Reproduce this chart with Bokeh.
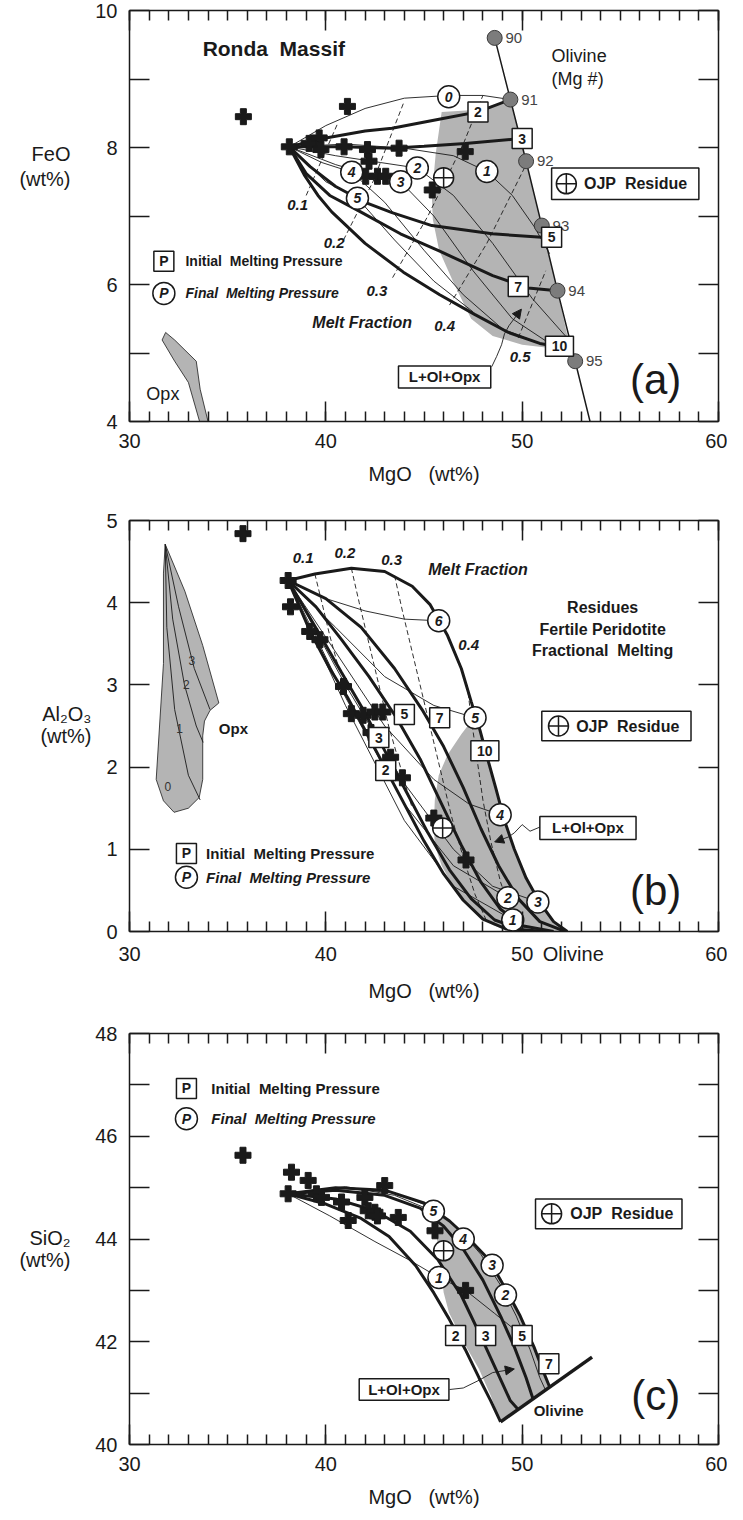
import json
from bokeh.plotting import figure
from bokeh.models import (LinearAxis, FixedTicker, CustomJSTickFormatter,
                          Arrow, NormalHead, Range1d)
from bokeh.layouts import column
from bokeh.embed import file_html
from bokeh.resources import INLINE
from bokeh.core.properties import value

FONT = "Liberation Sans"
INK = "#1a1a1a"
FIELD = "#b4b4b4"

# ---------------- shared axis values ----------------
MGO_TICKS = [30, 40, 50, 60]
MGO_MINOR = list(range(30, 61))
FEO_TICKS = [4, 6, 8, 10]
FEO_MINOR = [5, 7, 9]
AL_TICKS = [0, 1, 2, 3, 4, 5]
SI_TICKS = [40, 42, 44, 46, 48]
SI_MINOR = [41, 43, 45, 47]

# ---------------- panel (a): FeO vs MgO ----------------
A_CROSS_MGO = [35.8, 41.1, 38.14, 39.15, 39.66, 39.75, 40.93, 42.12, 42.2, 42.03, 42.63, 43.05, 43.73, 45.42, 47.1]
A_CROSS_FEO = [8.45, 8.6, 8.01, 8.06, 8.14, 7.97, 8.01, 7.97, 7.8, 7.58, 7.58, 7.58, 7.99, 7.38, 7.94]
A_OJP_MGO = [46.0]
A_OJP_FEO = [7.56]
A_OL_MGNUM = ["90", "91", "92", "93", "94", "95"]
A_OL_MGO = [48.6, 49.4, 50.2, 51.0, 51.8, 52.7]
A_OL_FEO = [9.6, 8.7, 7.8, 6.86, 5.91, 4.88]
A_OL_LINE_MGO = [48.6, 49.4, 50.2, 51.0, 51.8, 52.7, 53.5]
A_OL_LINE_FEO = [9.6, 8.7, 7.8, 6.86, 5.91, 4.88, 3.95]

A_P2_MGO = [38.14, 40.0, 42.0, 43.37, 45.9, 47.75, 49.4]
A_P2_FEO = [8.01, 8.14, 8.24, 8.28, 8.42, 8.52, 8.7]
A_P3_MGO = [38.14, 40.93, 43.37, 45.0, 47.1, 49.9]
A_P3_FEO = [8.01, 8.01, 7.99, 8.02, 8.06, 8.13]
A_P5_MGO = [38.14, 39.2, 40.5, 42.0, 43.37, 45.4, 48.47, 51.0]
A_P5_FEO = [8.01, 7.72, 7.43, 7.2, 7.05, 6.86, 6.74, 6.69]
A_P7_MGO = [38.14, 39.0, 40.2, 41.77, 43.8, 45.77, 48.5, 50.3, 51.8]
A_P7_FEO = [8.01, 7.62, 7.3, 7.06, 6.74, 6.49, 6.13, 5.95, 5.91]
A_P10_MGO = [38.14, 38.9, 39.6, 40.3, 42.0, 43.95, 45.8, 47.6, 49.3, 50.9, 52.45]
A_P10_FEO = [8.01, 7.6, 7.3, 7.06, 6.6, 6.18, 5.85, 5.56, 5.3, 5.14, 5.06]

A_F0_MGO = [38.14, 40.0, 42.0, 44.0, 46.26, 48.0, 49.4]
A_F0_FEO = [8.01, 8.32, 8.57, 8.72, 8.76, 8.76, 8.70]
A_F1_MGO = [38.14, 41.0, 44.0, 46.5, 48.2, 49.5, 50.6, 51.4]
A_F1_FEO = [8.01, 8.05, 7.99, 7.88, 7.65, 7.3, 6.85, 6.45]
A_F2_MGO = [38.14, 40.5, 42.8, 44.66, 46.5, 48.5, 50.5, 52.2]
A_F2_FEO = [8.01, 7.88, 7.78, 7.70, 7.3, 6.6, 5.8, 5.25]
A_F3_MGO = [38.14, 40.5, 42.3, 43.81, 45.5, 47.5, 49.5, 51.5]
A_F3_FEO = [8.01, 7.75, 7.6, 7.50, 7.0, 6.2, 5.5, 5.12]
A_F4_MGO = [38.14, 39.8, 41.32, 43.0, 45.0, 47.0, 49.0, 50.9]
A_F4_FEO = [8.01, 7.78, 7.64, 7.2, 6.5, 5.85, 5.35, 5.14]
A_F5_MGO = [38.14, 40.0, 41.61, 43.5, 45.5, 47.5]
A_F5_FEO = [8.01, 7.5, 7.26, 6.65, 6.05, 5.6]

A_ISO1_MGO = [39.0, 40.6]
A_ISO1_FEO = [7.3, 8.35]
A_ISO2_MGO = [40.9, 42.4, 44.0]
A_ISO2_FEO = [6.65, 7.5, 8.68]
A_ISO3_MGO = [43.4, 45.2, 47.0, 48.0]
A_ISO3_FEO = [6.1, 7.0, 8.05, 8.76]
A_ISO4_MGO = [46.3, 48.2, 50.2]
A_ISO4_FEO = [5.7, 6.6, 7.75]
A_ISO5_MGO = [49.8, 51.2]
A_ISO5_FEO = [5.22, 6.2]

A_FIELD_MGO = [45.9, 45.6, 45.4, 45.45, 45.77, 46.5, 47.4, 48.5, 50.0, 51.2, 52.45, 51.8, 51.0, 50.2, 49.4, 47.75]
A_FIELD_FEO = [8.52, 7.92, 7.29, 6.95, 6.5, 6.03, 5.5, 5.25, 5.12, 5.08, 5.06, 5.91, 6.86, 7.8, 8.7, 8.55]
A_OPX_MGO = [31.84, 32.3, 33.4, 33.6, 34.0, 33.57, 33.0, 32.3, 31.66]
A_OPX_FEO = [5.3, 5.19, 4.88, 4.47, 4.0, 4.0, 4.57, 4.88, 5.19]

A_IP_LABELS = ["2", "3", "5", "7", "10"]
A_IP_MGO = [47.75, 50.0, 51.5, 49.8, 51.9]
A_IP_FEO = [8.52, 8.13, 6.69, 5.97, 5.10]
A_FP_LABELS = ["0", "1", "2", "3", "4", "5"]
A_FP_MGO = [46.26, 48.2, 44.66, 43.81, 41.32, 41.61]
A_FP_FEO = [8.74, 7.65, 7.70, 7.50, 7.64, 7.26]
A_MF_LABELS = ["0.1", "0.2", "0.3", "0.4", "0.5"]
A_MF_MGO = [38.56, 40.42, 42.6, 46.05, 49.9]
A_MF_FEO = [7.16, 6.6, 5.9, 5.4, 4.94]
A_LEAD_MGO = [48.45, 48.7, 48.95, 49.1, 49.33]
A_LEAD_FEO = [4.8, 4.95, 5.12, 5.28, 5.4]
A_ARROW_TIP = [49.96, 5.64]
A_YTITLE = ["FeO", "(wt%)"]
A_YTITLE_AT = [7.9, 7.54]

# ---------------- panel (b): Al2O3 vs MgO ----------------
B_CROSS_MGO = [35.78, 38.08, 38.2, 39.18, 39.7, 40.9, 41.3, 41.9, 42.5, 42.9, 42.3, 43.3, 43.9, 45.5, 47.14]
B_CROSS_AL = [4.84, 4.27, 3.95, 3.65, 3.55, 2.98, 2.65, 2.63, 2.67, 2.67, 2.42, 2.12, 1.87, 1.38, 0.87]
B_OJP_MGO = [45.95]
B_OJP_AL = [1.26]

B_P2_MGO = [38.08, 39.2, 40.2, 41.1, 42.0, 43.0, 44.0, 45.0, 46.0, 47.0, 48.0, 49.2, 50.5]
B_P2_AL = [4.27, 3.65, 3.2, 2.85, 2.45, 2.0, 1.55, 1.1, 0.7, 0.38, 0.15, 0.03, 0.0]
B_P3_MGO = [38.08, 39.6, 40.8, 41.9, 43.0, 44.1, 45.2, 46.3, 47.4, 48.6, 50.0, 51.2]
B_P3_AL = [4.27, 3.65, 3.15, 2.7, 2.2, 1.7, 1.2, 0.75, 0.4, 0.14, 0.02, 0.0]
B_P5_MGO = [38.08, 39.5, 40.8, 42.2, 43.6, 44.8, 45.9, 46.9, 47.9, 48.9, 50.0, 51.6]
B_P5_AL = [4.27, 3.95, 3.55, 3.1, 2.6, 2.1, 1.55, 1.05, 0.6, 0.27, 0.07, 0.0]
B_P7_MGO = [38.08, 40.0, 41.8, 43.5, 44.9, 46.0, 47.0, 47.9, 48.8, 49.8, 50.9, 52.2]
B_P7_AL = [4.27, 4.05, 3.7, 3.2, 2.7, 2.25, 1.75, 1.25, 0.8, 0.4, 0.12, 0.0]
B_P10_MGO = [38.08, 39.44, 41.3, 43.0, 44.4, 45.3, 46.2, 46.9, 47.4, 47.85, 48.3, 48.65, 49.1, 49.6, 50.2, 50.9, 51.6, 52.3]
B_P10_AL = [4.27, 4.35, 4.42, 4.38, 4.2, 3.98, 3.6, 3.2, 2.8, 2.45, 2.05, 1.75, 1.35, 1.0, 0.65, 0.35, 0.12, 0.0]

B_F6_MGO = [38.08, 40.0, 42.0, 44.0, 45.75]
B_F6_AL = [4.27, 4.05, 3.9, 3.8, 3.78]
B_F5_MGO = [38.08, 40.5, 43.0, 45.5, 47.6]
B_F5_AL = [4.27, 3.7, 3.1, 2.75, 2.6]
B_F4_MGO = [38.08, 40.5, 43.0, 45.5, 47.3, 48.88]
B_F4_AL = [4.27, 3.4, 2.5, 1.85, 1.55, 1.42]
B_F3_MGO = [38.08, 41.0, 44.0, 46.5, 48.5, 50.8]
B_F3_AL = [4.27, 3.0, 1.8, 1.0, 0.55, 0.36]
B_F2_MGO = [38.08, 41.0, 44.0, 46.5, 49.27]
B_F2_AL = [4.27, 2.85, 1.55, 0.8, 0.41]
B_F1_MGO = [38.08, 41.0, 44.0, 46.5, 49.52]
B_F1_AL = [4.27, 2.75, 1.35, 0.55, 0.14]

B_ISO1_MGO = [39.44, 39.8, 40.2, 40.6]
B_ISO1_AL = [4.35, 4.0, 3.6, 3.25]
B_ISO2_MGO = [41.3, 41.7, 42.2, 42.7, 43.2, 43.8, 44.4]
B_ISO2_AL = [4.42, 4.0, 3.5, 3.0, 2.5, 2.0, 1.5]
B_ISO3_MGO = [43.5, 43.9, 44.4, 44.9, 45.4, 45.9, 46.4, 47.0, 47.6, 48.2]
B_ISO3_AL = [4.33, 3.9, 3.4, 2.9, 2.4, 1.9, 1.4, 0.9, 0.45, 0.12]
B_ISO4_MGO = [47.2, 47.4, 47.7, 48.0, 48.4, 48.9, 49.5, 50.2]
B_ISO4_AL = [3.0, 2.6, 2.1, 1.6, 1.1, 0.6, 0.2, 0.03]

B_FIELD_MGO = [47.6, 46.9, 46.2, 45.75, 45.55, 45.5, 45.55, 45.9, 46.6, 47.5, 48.5, 49.5, 52.3, 51.6, 50.9, 50.2, 49.6, 49.1, 48.65, 48.3, 47.85]
B_FIELD_AL = [2.62, 2.4, 2.15, 1.9, 1.6, 1.3, 1.05, 0.8, 0.5, 0.25, 0.08, 0.0, 0.0, 0.12, 0.35, 0.65, 1.0, 1.35, 1.75, 2.05, 2.45]
B_OPX_MGO = [31.82, 32.82, 33.73, 34.55, 34.1, 33.82, 33.73, 33.73, 33.55, 33.0, 32.27, 31.73, 31.36, 31.73, 31.73]
B_OPX_AL = [4.71, 4.14, 3.48, 2.78, 2.69, 2.56, 2.38, 1.85, 1.63, 1.5, 1.45, 1.59, 1.85, 3.26, 4.36]
B_OPXL1_MGO = [31.82, 31.9, 32.3, 33.0, 33.6]
B_OPXL1_AL = [4.71, 3.7, 2.7, 1.9, 1.6]
B_OPXL2_MGO = [31.82, 32.2, 32.8, 33.4, 33.75]
B_OPXL2_AL = [4.71, 3.8, 3.0, 2.5, 2.3]
B_OPXL3_MGO = [31.82, 32.5, 33.3, 34.1]
B_OPXL3_AL = [4.71, 3.95, 3.2, 2.7]
B_OPXN_LABELS = ["0", "1", "2", "3"]
B_OPXN_MGO = [31.95, 32.55, 32.9, 33.18]
B_OPXN_AL = [1.76, 2.47, 3.0, 3.3]

B_IP_LABELS = ["2", "3", "5", "7", "10"]
B_IP_MGO = [43.05, 42.7, 44.0, 45.8, 48.1]
B_IP_AL = [1.96, 2.36, 2.64, 2.6, 2.2]
B_FP_LABELS = ["1", "2", "3", "4", "5", "6"]
B_FP_MGO = [49.52, 49.27, 50.8, 48.88, 47.6, 45.75]
B_FP_AL = [0.14, 0.41, 0.36, 1.42, 2.6, 3.78]
B_MF_LABELS = ["0.1", "0.2", "0.3", "0.4"]
B_MF_MGO = [38.84, 40.97, 43.35, 47.28]
B_MF_AL = [4.54, 4.6, 4.52, 3.48]
B_LEAD_MGO = [50.9, 50.4, 50.0, 49.6, 49.3]
B_LEAD_AL = [1.27, 1.22, 1.3, 1.2, 1.15]
B_ARROW_TIP = [48.6, 1.09]
B_YTITLE = ["Al\u2082O\u2083", "(wt%)"]
B_YTITLE_AT = [2.64, 2.38]
B_OLIVINE_MGO = 52.6

# ---------------- panel (c): SiO2 vs MgO ----------------
C_CROSS_MGO = [35.78, 38.25, 38.08, 39.1, 39.52, 39.78, 40.8, 41.14, 41.99, 42.16, 42.5, 43.0, 43.69, 45.56, 47.12, 42.63]
C_CROSS_SI = [45.63, 45.3, 44.88, 45.14, 44.88, 44.81, 44.72, 44.36, 44.81, 44.55, 44.52, 45.04, 44.42, 44.16, 43.0, 44.45]
C_OJP_MGO = [46.0]
C_OJP_SI = [43.77]

C_P2_MGO = [38.08, 40.0, 41.8, 43.22, 44.58, 45.5, 46.27, 47.1, 47.8, 48.4, 48.9]
C_P2_SI = [44.88, 44.68, 44.4, 44.05, 43.48, 42.95, 42.45, 41.85, 41.3, 40.85, 40.44]
C_P3_MGO = [38.08, 40.5, 42.5, 44.3, 45.7, 46.9, 47.9, 48.8, 49.4, 49.8]
C_P3_SI = [44.88, 44.78, 44.55, 44.15, 43.6, 42.9, 42.1, 41.35, 40.85, 40.68]
C_P5_MGO = [38.08, 40.5, 43.0, 44.8, 46.0, 47.0, 48.0, 48.9, 49.6, 50.2, 50.55]
C_P5_SI = [44.88, 44.95, 44.85, 44.6, 44.25, 43.8, 43.2, 42.5, 41.9, 41.3, 40.89]
C_P7_MGO = [38.08, 40.5, 43.0, 45.0, 46.3, 47.3, 48.3, 49.2, 49.9, 50.6, 51.1, 51.4]
C_P7_SI = [44.88, 45.0, 44.95, 44.7, 44.35, 44.0, 43.6, 43.0, 42.5, 41.9, 41.4, 41.12]

C_F1_MGO = [38.08, 40.2, 42.5, 44.3, 45.76]
C_F1_SI = [44.88, 44.45, 43.95, 43.58, 43.25]
C_F1B_MGO = [45.76, 47.12, 48.6, 50.0]
C_F1B_SI = [43.25, 43.0, 42.55, 42.12]
C_F5_MGO = [38.08, 41.0, 43.5, 45.48]
C_F5_SI = [44.88, 45.02, 44.85, 44.54]
C_FX_MGO = [38.08, 41.0, 43.5, 45.5, 46.8, 47.9, 48.9, 49.7, 50.4, 50.9, 51.2]
C_FX_SI = [44.88, 44.98, 44.9, 44.6, 44.18, 43.7, 43.1, 42.5, 41.85, 41.3, 41.05]

C_FIELD_MGO = [45.5, 45.75, 46.0, 46.27, 47.0, 47.8, 48.4, 48.9, 50.2, 51.4, 50.9, 50.0, 48.9, 47.5, 46.5, 45.8]
C_FIELD_SI = [44.35, 43.8, 42.96, 42.57, 42.0, 41.47, 40.95, 40.44, 40.79, 41.12, 41.6, 42.45, 43.25, 43.95, 44.3, 44.5]
C_OL_MGO = [48.9, 53.56]
C_OL_SI = [40.44, 41.7]

C_IP_LABELS = ["2", "3", "5", "7"]
C_IP_MGO = [46.61, 48.14, 50.0, 51.36]
C_IP_SI = [42.12, 42.12, 42.12, 41.57]
C_FP_LABELS = ["1", "2", "3", "4", "5"]
C_FP_MGO = [45.76, 49.15, 48.47, 47.0, 45.48]
C_FP_SI = [43.25, 42.91, 43.49, 44.0, 44.54]
C_LEAD_MGO = [46.3, 47.0, 47.8, 48.5]
C_LEAD_SI = [41.07, 41.1, 41.25, 41.4]
C_ARROW_TIP = [49.6, 41.47]
C_YTITLE = ["SiO\u2082", "(wt%)"]
C_YTITLE_AT = [44.01, 43.6]


# ---------------- helpers ----------------
def label_map_formatter(ticks, labels, fallback_number):
    code = ("const T = %s; const L = %s;"
            "for (let i = 0; i < T.length; i++) { if (Math.abs(tick - T[i]) < 1e-6) return L[i]; }"
            "return %s;") % (json.dumps(ticks), json.dumps(labels),
                             "String(tick)" if fallback_number else "''")
    return CustomJSTickFormatter(code=code)


def style_axis(ax, ticks, minor, minor_len, show_labels):
    ax.ticker = FixedTicker(ticks=ticks, minor_ticks=minor)
    ax.major_tick_in = 20
    ax.major_tick_out = 0
    ax.minor_tick_in = minor_len
    ax.minor_tick_out = 0
    for prop in ("axis_line", "major_tick_line", "minor_tick_line"):
        setattr(ax, prop + "_color", INK)
        setattr(ax, prop + "_width", 1.5)
    ax.major_label_text_font = FONT
    ax.major_label_text_color = INK
    if show_labels:
        ax.major_label_text_font_size = "20px"
        ax.major_label_standoff = 12
    else:
        ax.formatter = CustomJSTickFormatter(code="return ''")
        ax.major_label_text_font_size = "1px"
        ax.major_label_standoff = 0


def bare_axis(ax, standoff):
    ax.axis_line_color = None
    ax.major_tick_line_color = None
    ax.minor_tick_line_color = None
    ax.major_tick_in = 0
    ax.major_tick_out = 0
    ax.minor_tick_in = 0
    ax.minor_tick_out = 0
    ax.major_label_text_font = FONT
    ax.major_label_text_font_size = "20px"
    ax.major_label_text_color = INK
    ax.major_label_standoff = standoff


def x_title(ax):
    ax.axis_label = "MgO\u00a0\u00a0\u00a0(wt%)"
    ax.axis_label_text_font = FONT
    ax.axis_label_text_font_size = "20px"
    ax.axis_label_text_font_style = "normal"
    ax.axis_label_text_color = INK
    ax.axis_label_standoff = 12


def make_fig(y0, y1, top, bottom, yticks, yminor, yminor_len, ytitle, ytitle_at,
             title_standoff, olivine_at=None):
    p = figure(x_range=Range1d(30, 60), y_range=Range1d(y0, y1),
               frame_width=589, frame_height=411,
               min_border_left=129, min_border_right=9,
               min_border_top=top, min_border_bottom=bottom,
               output_backend="svg", toolbar_location=None,
               x_axis_type=None, y_axis_type=None,
               background_fill_color="white", border_fill_color="white")
    p.outline_line_color = None
    p.grid.visible = False

    bottom_ax = LinearAxis()
    style_axis(bottom_ax, MGO_TICKS, MGO_MINOR, 10, olivine_at is None)
    p.add_layout(bottom_ax, "below")
    if olivine_at is None:
        x_title(bottom_ax)
    else:
        # tick marks on the frame axis; numbers and "Olivine" on a line-less axis below it
        ticks = MGO_TICKS[:3] + [olivine_at] + MGO_TICKS[3:]
        texts = [str(t) for t in MGO_TICKS[:3]] + ["Olivine"] + [str(t) for t in MGO_TICKS[3:]]
        num_ax = LinearAxis(ticker=FixedTicker(ticks=ticks),
                            formatter=label_map_formatter(ticks, texts, True))
        bare_axis(num_ax, 11)
        x_title(num_ax)
        p.add_layout(num_ax, "below")

    left_ax = LinearAxis()
    style_axis(left_ax, yticks, yminor, yminor_len, True)
    p.add_layout(left_ax, "left")
    # horizontal y-axis title, written as the labels of an extra line-less axis
    title_ax = LinearAxis(ticker=FixedTicker(ticks=ytitle_at),
                          formatter=label_map_formatter(ytitle_at, ytitle, False))
    bare_axis(title_ax, title_standoff)
    p.add_layout(title_ax, "left")

    top_ax = LinearAxis()
    style_axis(top_ax, MGO_TICKS, MGO_MINOR, 10, False)
    p.add_layout(top_ax, "above")
    right_ax = LinearAxis()
    style_axis(right_ax, yticks, yminor, yminor_len, False)
    p.add_layout(right_ax, "right")
    return p


def txt(p, xs, ys, labels, size, style="normal", align="center", color=INK):
    p.text(x=xs, y=ys, text=labels, text_font=value(FONT),
           text_font_size=value(f"{size}px"), text_font_style=style,
           text_align=align, text_baseline="middle", text_color=color)


def boxes(p, xs, ys, labels, size=14):
    widths = [20 + 8 * (len(s) - 1) for s in labels]
    p.rect(x=xs, y=ys, width=widths, height=20, width_units="screen",
           height_units="screen", fill_color="white", line_color=INK, line_width=1.5)
    txt(p, xs, ys, labels, size, "bold")


def rings(p, xs, ys, labels, size=14):
    p.scatter(x=xs, y=ys, marker="circle", size=22, fill_color="white",
              line_color=INK, line_width=1.5)
    txt(p, xs, ys, labels, size, "bold italic")


def crosses(p, xs, ys):
    p.scatter(x=xs, y=ys, marker="plus", size=16, fill_color=INK, line_color=INK)


def ojp(p, xs, ys, size=20):
    p.scatter(x=xs, y=ys, marker="circle_cross", size=size, fill_color="white",
              line_color=INK, line_width=1.5)


def thick(p, xs, ys):
    p.line(xs, ys, line_color=INK, line_width=3)


def thin(p, xs, ys):
    p.line(xs, ys, line_color=INK, line_width=0.9)


def dashed(p, xs, ys):
    p.line(xs, ys, line_color=INK, line_width=0.9, line_dash="5 3")


def panel_tag(p, x, y, text):
    txt(p, [x], [y], [text], 42, "normal")


def legend_pair(p, x, y_init, y_final, tx, size):
    boxes(p, [x], [y_init], ["P"], 14)
    rings(p, [x], [y_final], ["P"], 14)
    txt(p, [tx], [y_init], ["Initial\u00a0\u00a0Melting Pressure"], size, "bold", "left")
    txt(p, [tx], [y_final], ["Final\u00a0\u00a0Melting Pressure"], size, "bold italic", "left")


def framed(p, left, right, bottom, top, tx, ty, text, size, align="center"):
    p.quad(left=[left], right=[right], bottom=[bottom], top=[top], fill_color="white",
           line_color=INK, line_width=1.5)
    txt(p, [tx], [ty], [text], size, "bold", align)


def leader(p, xs, ys, tip):
    thin(p, xs, ys)
    p.add_layout(Arrow(end=NormalHead(size=9, fill_color=INK, line_color=INK, line_width=1),
                       x_start=xs[-1], y_start=ys[-1], x_end=tip[0], y_end=tip[1],
                       line_color=INK, line_width=0.9))


# ================= panel (a) =================
pa = make_fig(4, 10, 10, 79, FEO_TICKS, FEO_MINOR, 20, A_YTITLE, A_YTITLE_AT, 22)
pa.patch(A_FIELD_MGO, A_FIELD_FEO, fill_color=FIELD, line_color=None)
pa.patch(A_OPX_MGO, A_OPX_FEO, fill_color=FIELD, line_color=INK, line_width=0.8)
for xs, ys in [(A_ISO1_MGO, A_ISO1_FEO), (A_ISO2_MGO, A_ISO2_FEO), (A_ISO3_MGO, A_ISO3_FEO),
               (A_ISO4_MGO, A_ISO4_FEO), (A_ISO5_MGO, A_ISO5_FEO)]:
    dashed(pa, xs, ys)
for xs, ys in [(A_F0_MGO, A_F0_FEO), (A_F1_MGO, A_F1_FEO), (A_F2_MGO, A_F2_FEO),
               (A_F3_MGO, A_F3_FEO), (A_F4_MGO, A_F4_FEO), (A_F5_MGO, A_F5_FEO)]:
    thin(pa, xs, ys)
for xs, ys in [(A_P2_MGO, A_P2_FEO), (A_P3_MGO, A_P3_FEO), (A_P5_MGO, A_P5_FEO),
               (A_P7_MGO, A_P7_FEO), (A_P10_MGO, A_P10_FEO)]:
    thick(pa, xs, ys)
pa.line(A_OL_LINE_MGO, A_OL_LINE_FEO, line_color=INK, line_width=1.5)
pa.scatter(A_OL_MGO, A_OL_FEO, marker="circle", size=15, fill_color="#7c7c7c", line_color="#3a3a3a")
txt(pa, [m + 0.55 for m in A_OL_MGO], A_OL_FEO, A_OL_MGNUM, 15, "normal", "left", "#444444")
crosses(pa, A_CROSS_MGO, A_CROSS_FEO)
ojp(pa, A_OJP_MGO, A_OJP_FEO)
rings(pa, A_FP_MGO, A_FP_FEO, A_FP_LABELS)
boxes(pa, A_IP_MGO, A_IP_FEO, A_IP_LABELS)
txt(pa, A_MF_MGO, A_MF_FEO, A_MF_LABELS, 15, "bold italic")
txt(pa, [41.85], [5.45], ["Melt Fraction"], 16, "bold italic")
txt(pa, [37.35], [9.45], ["Ronda\u00a0\u00a0Massif"], 21, "bold")
txt(pa, [51.5], [9.34], ["Olivine"], 18, "normal", "left")
txt(pa, [51.5], [9.0], ["(Mg #)"], 18, "normal", "left")
txt(pa, [31.7], [4.4], ["Opx"], 18, "normal")
legend_pair(pa, 31.75, 6.34, 5.87, 32.85, 14)
framed(pa, 51.5, 59.0, 7.24, 7.70, 53.15, 7.47, "OJP\u00a0\u00a0Residue", 16, "left")
ojp(pa, [52.25], [7.47])
framed(pa, 43.7, 48.4, 4.49, 4.81, 46.05, 4.65, "L+Ol+Opx", 15)
leader(pa, A_LEAD_MGO, A_LEAD_FEO, A_ARROW_TIP)
panel_tag(pa, 56.8, 4.62, "(a)")

# ================= panel (b) =================
pb = make_fig(0, 5, 20, 82, AL_TICKS, [], 20, B_YTITLE, B_YTITLE_AT, 12, B_OLIVINE_MGO)
pb.patch(B_FIELD_MGO, B_FIELD_AL, fill_color=FIELD, line_color=None)
pb.patch(B_OPX_MGO, B_OPX_AL, fill_color=FIELD, line_color=INK, line_width=0.8)
for xs, ys in [(B_OPXL1_MGO, B_OPXL1_AL), (B_OPXL2_MGO, B_OPXL2_AL), (B_OPXL3_MGO, B_OPXL3_AL)]:
    thin(pb, xs, ys)
txt(pb, B_OPXN_MGO, B_OPXN_AL, B_OPXN_LABELS, 12, "normal", "center", "#333333")
for xs, ys in [(B_ISO1_MGO, B_ISO1_AL), (B_ISO2_MGO, B_ISO2_AL), (B_ISO3_MGO, B_ISO3_AL),
               (B_ISO4_MGO, B_ISO4_AL)]:
    dashed(pb, xs, ys)
for xs, ys in [(B_F6_MGO, B_F6_AL), (B_F5_MGO, B_F5_AL), (B_F4_MGO, B_F4_AL),
               (B_F3_MGO, B_F3_AL), (B_F2_MGO, B_F2_AL), (B_F1_MGO, B_F1_AL)]:
    thin(pb, xs, ys)
for xs, ys in [(B_P2_MGO, B_P2_AL), (B_P3_MGO, B_P3_AL), (B_P5_MGO, B_P5_AL),
               (B_P7_MGO, B_P7_AL), (B_P10_MGO, B_P10_AL)]:
    thick(pb, xs, ys)
crosses(pb, B_CROSS_MGO, B_CROSS_AL)
ojp(pb, B_OJP_MGO, B_OJP_AL)
rings(pb, B_FP_MGO, B_FP_AL, B_FP_LABELS)
boxes(pb, B_IP_MGO, B_IP_AL, B_IP_LABELS)
txt(pb, B_MF_MGO, B_MF_AL, B_MF_LABELS, 15, "bold italic")
txt(pb, [47.75], [4.4], ["Melt Fraction"], 16, "bold italic")
txt(pb, [54.1, 54.1, 54.1], [3.94, 3.68, 3.42],
    ["Residues", "Fertile Peridotite", "Fractional\u00a0\u00a0Melting"], 16, "bold")
txt(pb, [34.55], [2.47], ["Opx"], 15, "bold", "left")
legend_pair(pb, 32.9, 0.95, 0.66, 33.9, 15)
framed(pb, 51.0, 58.6, 2.32, 2.68, 52.75, 2.5, "OJP\u00a0\u00a0Residue", 16, "left")
ojp(pb, [51.85], [2.5])
framed(pb, 50.9, 55.8, 1.12, 1.40, 53.35, 1.26, "L+Ol+Opx", 15)
leader(pb, B_LEAD_MGO, B_LEAD_AL, B_ARROW_TIP)
panel_tag(pb, 56.8, 0.5, "(b)")

# ================= panel (c) =================
pc = make_fig(40, 48, 20, 60, SI_TICKS, SI_MINOR, 20, C_YTITLE, C_YTITLE_AT, 22)
pc.patch(C_FIELD_MGO, C_FIELD_SI, fill_color=FIELD, line_color=None)
for xs, ys in [(C_F1_MGO, C_F1_SI), (C_F1B_MGO, C_F1B_SI), (C_F5_MGO, C_F5_SI), (C_FX_MGO, C_FX_SI)]:
    thin(pc, xs, ys)
for xs, ys in [(C_P2_MGO, C_P2_SI), (C_P3_MGO, C_P3_SI), (C_P5_MGO, C_P5_SI), (C_P7_MGO, C_P7_SI)]:
    thick(pc, xs, ys)
pc.line(C_OL_MGO, C_OL_SI, line_color=INK, line_width=3.5)
crosses(pc, C_CROSS_MGO, C_CROSS_SI)
ojp(pc, C_OJP_MGO, C_OJP_SI)
rings(pc, C_FP_MGO, C_FP_SI, C_FP_LABELS)
boxes(pc, C_IP_MGO, C_IP_SI, C_IP_LABELS)
legend_pair(pc, 32.9, 46.93, 46.34, 34.17, 15)
framed(pc, 50.68, 58.14, 44.2, 44.78, 52.45, 44.49, "OJP\u00a0\u00a0Residue", 16, "left")
ojp(pc, [51.5], [44.49])
framed(pc, 41.7, 46.27, 40.86, 41.28, 43.98, 41.07, "L+Ol+Opx", 15)
leader(pc, C_LEAD_MGO, C_LEAD_SI, C_ARROW_TIP)
txt(pc, [51.86], [40.66], ["Olivine"], 15, "bold")
panel_tag(pc, 56.8, 40.95, "(c)")

layout = column(pa, pb, pc, spacing=0)
open("out.html", "w").write(file_html(layout, INLINE))
